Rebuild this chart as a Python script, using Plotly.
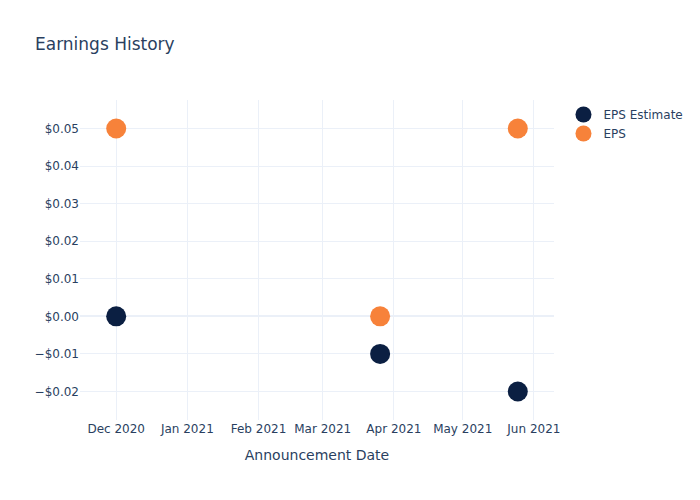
import plotly.graph_objects as go

dates = ["2020-12-01", "2021-03-26", "2021-05-25"]
eps_estimate = [0.0, -0.01, -0.02]
eps_actual = [0.05, 0.0, 0.05]

fig = go.Figure()
fig.add_trace(go.Scatter(x=dates, y=eps_estimate, mode="markers", name="EPS Estimate",
                         marker=dict(color="#0b1f42", size=20)))
fig.add_trace(go.Scatter(x=dates, y=eps_actual, mode="markers", name="EPS",
                         marker=dict(color="#f7823a", size=20)))
fig.update_layout(
    template="plotly_white",
    width=700, height=500,
    font=dict(family="DejaVu Sans"),
    title=dict(text="Earnings History"),
    xaxis=dict(title=dict(text="Announcement Date")),
    yaxis=dict(tickformat="$.2f"),
)
fig.write_html("out.html")
